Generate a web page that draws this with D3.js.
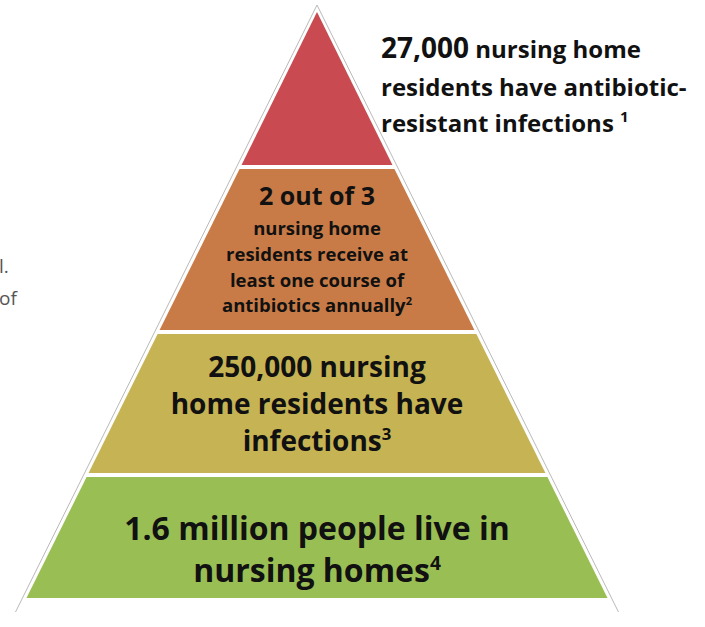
<!DOCTYPE html>
<html>
<head>
<meta charset="utf-8">
<script src="https://cdn.jsdelivr.net/npm/d3@7"></script>
<style>
  html, body { margin: 0; padding: 0; background: #ffffff; }
  svg { display: block; }
  text { font-family: "Open Sans", "Lato", sans-serif; font-weight: 700; fill: #111; }
</style>
</head>
<body>
<svg id="chart" width="705" height="627"></svg>
<script>
// Tiers of the pyramid, from the tip down
const tierNames = ["resistant", "antibiotics", "infections", "residents"];
const tierColors = ["#c94a50", "#c87b47", "#c6b353", "#99bf54"];

// Text inside each tier: [text, superscript] per line
const tierLines = [
  [],
  [["2 out of 3", ""], ["nursing home", ""], ["residents receive at", ""], ["least one course of", ""], ["antibiotics annually", "2"]],
  [["250,000 nursing", ""], ["home residents have", ""], ["infections", "3"]],
  [["1.6 million people live in", ""], ["nursing homes", "4"]]
];

// Callout beside the tip
const calloutLines = [
  [["27,000", "lead"], [" nursing home", ""]],
  [["residents have antibiotic-", ""]],
  [["resistant infections ", ""], ["1", "sup"]]
];

// Fragment of neighbouring body text at the left edge
const sideText = ["l.", "of"];

// ---- layout ----
const W = 705, H = 627;
const apex = { x: 317, y: 5 };
const baseY = 603, baseHalf = 297;
const tierBands = [[12, 165], [169, 330], [334, 473], [477, 598]];
const inset = 4;

const svg = d3.select("#chart");

// half-width of the pyramid silhouette at a given height
const half = d3.scaleLinear().domain([apex.y, baseY]).range([0, baseHalf]);

// silhouette: thin grey outline on white
const outlineBottom = 612;
svg.append("path")
  .attr("d", d3.line()([
    [apex.x - half(outlineBottom), outlineBottom],
    [apex.x, apex.y],
    [apex.x + half(outlineBottom), outlineBottom]
  ]))
  .attr("fill", "#ffffff")
  .attr("stroke", "#b9b9b9")
  .attr("stroke-width", 1);

// tier fills
const tierPoly = (band) => {
  const [t, b] = band;
  const ht = Math.max(0, half(t) - inset), hb = half(b) - inset;
  return [
    [apex.x - ht, t], [apex.x + ht, t],
    [apex.x + hb, b], [apex.x - hb, b]
  ];
};

svg.append("g")
  .selectAll("path")
  .data(tierNames)
  .join("path")
  .attr("d", (d, i) => d3.line()(tierPoly(tierBands[i])) + "Z")
  .attr("fill", (d, i) => tierColors[i]);

// tier labels
const tierText = [
  null,
  { size: [25, 18.5, 18.5, 18.5, 18.5], base: [205, 235, 261, 287, 312] },
  { size: [28, 28, 28], base: [377, 414, 451] },
  { size: [32, 32], base: [540, 582] }
];

tierLines.forEach((lines, i) => {
  if (!lines.length) return;
  const spec = tierText[i];
  const g = svg.append("g").attr("class", "tier-label");
  lines.forEach(([txt, sup], j) => {
    const t = g.append("text")
      .attr("x", apex.x)
      .attr("y", spec.base[j])
      .attr("text-anchor", "middle")
      .attr("font-size", spec.size[j]);
    t.append("tspan").text(txt);
    if (sup) {
      t.append("tspan")
        .attr("font-size", spec.size[j] * 0.6)
        .attr("dy", -spec.size[j] * 0.38)
        .text(sup);
    }
  });
});

// callout next to the tip
const callout = svg.append("g").attr("class", "callout");
const calloutBase = [58, 96, 132];
calloutLines.forEach((parts, j) => {
  const t = callout.append("text")
    .attr("x", 381)
    .attr("y", calloutBase[j])
    .attr("font-size", 24);
  parts.forEach(([txt, role]) => {
    const s = t.append("tspan").text(txt);
    if (role === "lead") s.attr("font-size", 28);
    if (role === "sup") s.attr("font-size", 15).attr("dy", -10);
  });
});

// left-edge fragment
svg.append("g")
  .selectAll("text")
  .data(sideText)
  .join("text")
  .attr("x", -1)
  .attr("y", (d, i) => 273 + i * 32)
  .attr("font-size", 19)
  .style("font-weight", 400)
  .style("fill", "#555")
  .text(d => d);
</script>
</body>
</html>
